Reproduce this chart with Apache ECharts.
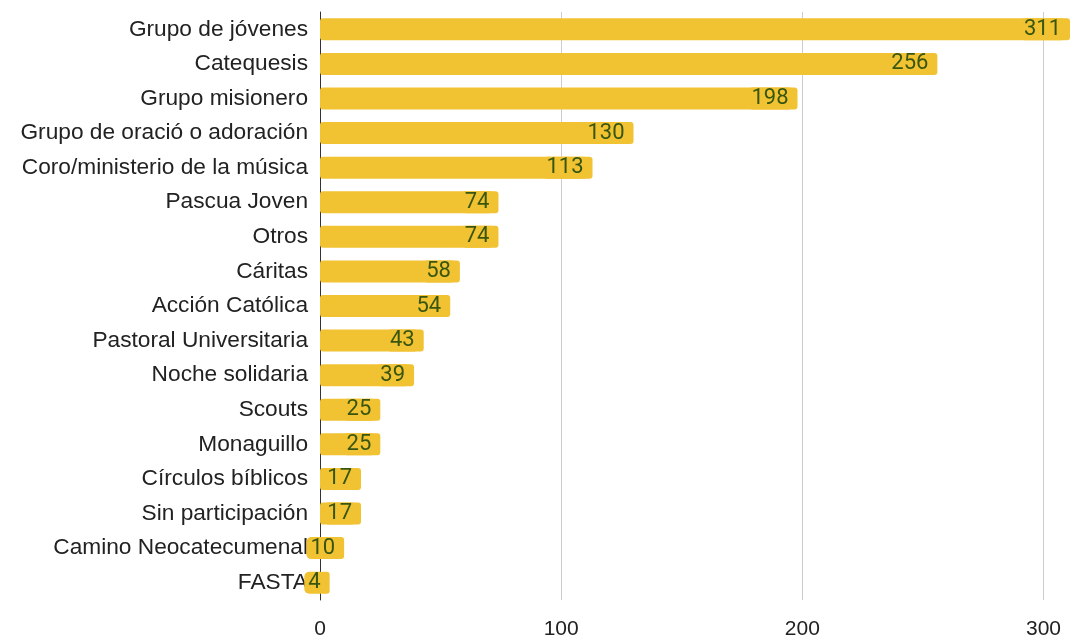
<!DOCTYPE html>
<html><head><meta charset="utf-8">
<script src="https://cdn.jsdelivr.net/npm/echarts@6/dist/echarts.min.js"></script>
<style>html,body{margin:0;padding:0;background:#fff}#c{width:1089px;height:640px}</style>
</head><body><div id="c"></div>
<script>
const categories = ["Grupo de jóvenes","Catequesis","Grupo misionero","Grupo de oració o adoración","Coro/ministerio de la música","Pascua Joven","Otros","Cáritas","Acción Católica","Pastoral Universitaria","Noche solidaria","Scouts","Monaguillo","Círculos bíblicos","Sin participación","Camino Neocatecumenal","FASTA"];
const values = [311,256,198,130,113,74,74,58,54,43,39,25,25,17,17,10,4];
const xTicks = [0,100,200,300];

const chart = echarts.init(document.getElementById('c'));
chart.setOption({
  animation:false,
  grid:{left:320,right:19,top:12,bottom:40,containLabel:false},
  xAxis:{type:'value',min:0,max:311,interval:100,
    axisLine:{show:false},axisTick:{show:false},
    splitLine:{show:true,showMaxLine:false,lineStyle:{color:'#cccccc',width:1}},
    axisLabel:{fontFamily:'Liberation Sans, Arial',fontSize:21,color:'#222',margin:19,showMaxLabel:false,
      formatter:v=>xTicks.includes(v)?String(v):''}},
  yAxis:{type:'category',inverse:true,data:categories,
    axisLine:{show:true,lineStyle:{color:'#333',width:1}},axisTick:{show:false},
    axisLabel:{fontFamily:'Liberation Sans, Arial',fontSize:22.7,color:'#222',margin:12}},
  series:[{type:'bar',data:values,barWidth:22,
    itemStyle:{color:'#f1c232',borderRadius:3},
    label:{show:true,position:'insideRight',distance:4,color:'#38560f',fontFamily:'Roboto',fontSize:22,
      backgroundColor:'#f1c232',borderRadius:5,padding:[0,5,0,4]}
  }]
});
</script></body></html>
